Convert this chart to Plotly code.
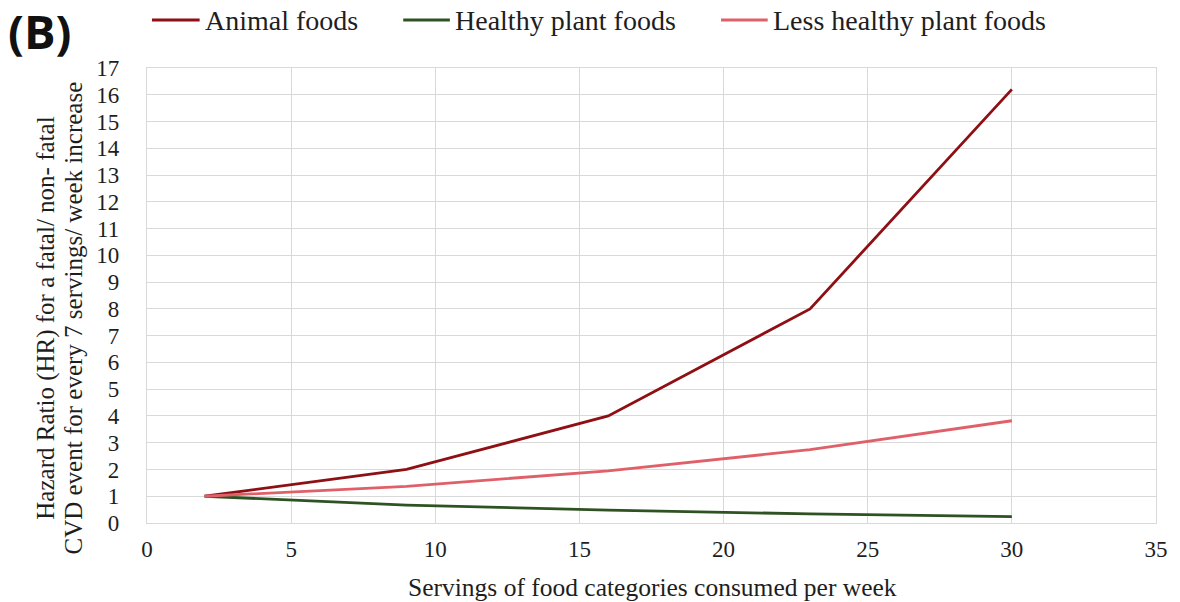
import plotly.graph_objects as go

# Servings per week at which hazard ratios are evaluated
servings = [2, 9, 16, 23, 30]

# Hazard ratios (reference = 2 servings/week)
animal_foods = [1.0, 2.0, 4.0, 8.0, 16.2]
healthy_plant_foods = [1.0, 0.67, 0.48, 0.34, 0.24]
less_healthy_plant_foods = [1.0, 1.37, 1.95, 2.74, 3.82]

series_names = ["Animal foods", "Healthy plant foods", "Less healthy plant foods"]
series_values = [animal_foods, healthy_plant_foods, less_healthy_plant_foods]
series_colors = ["#8e0f14", "#2f5222", "#e0606a"]

x_ticks = [0, 5, 10, 15, 20, 25, 30, 35]
y_ticks = list(range(0, 18))

W, H = 1180, 602
ML, MR, MT, MB = 147, 17, 68, 79
PW, PH = W - ML - MR, H - MT - MB

serif = "Liberation Serif, Times New Roman, serif"
grid = "#d9d9d9"
ink = "#1e1e1e"


def px(x):
    """Page pixel column -> paper x."""
    return (x - ML) / PW


def py(y):
    """Page pixel row -> paper y."""
    return (H - MB - y) / PH


fig = go.Figure()
for name, vals, color in zip(series_names, series_values, series_colors):
    fig.add_trace(go.Scatter(
        x=servings, y=vals, name=name, mode="lines",
        line=dict(color=color, width=2.8), showlegend=False,
    ))

annotations = []
shapes = []

# Legend row across the top: sample line followed by the series name
legend_lines = [(152, 200), (405, 452), (725, 772)]
for (x0, x1), name, color in zip(legend_lines, series_names, series_colors):
    shapes.append(dict(type="line", xref="paper", yref="paper",
                       x0=px(x0), x1=px(x1), y0=py(20), y1=py(20),
                       line=dict(color=color, width=3.2)))
    annotations.append(dict(text=name, xref="paper", yref="paper",
                            x=px(x1 + 3), y=py(21), xanchor="left", yanchor="middle",
                            showarrow=False, font=dict(family=serif, size=28, color=ink)))

# Panel label
annotations.append(dict(text="<b>(B)</b>", xref="paper", yref="paper",
                        x=px(5), y=py(-3), xanchor="left", yanchor="top", showarrow=False,
                        font=dict(family="Open Sans, sans-serif", size=47, color="#111111")))

# Axis titles
annotations.append(dict(text="Servings of food categories consumed per week",
                        xref="paper", yref="paper", x=px(656), y=py(587),
                        xanchor="center", yanchor="middle", showarrow=False,
                        font=dict(family=serif, size=25.5, color=ink)))
for text, xc in [("Hazard Ratio (HR) for a fatal/ non- fatal", 45),
                 ("CVD event for every 7 servings/ week increase", 72)]:
    annotations.append(dict(text=text, xref="paper", yref="paper", x=px(xc), y=py(318),
                            xanchor="center", yanchor="middle", textangle=-90,
                            showarrow=False, font=dict(family=serif, size=25, color=ink)))

fig.update_layout(
    width=W, height=H,
    margin=dict(l=ML, r=MR, t=MT, b=MB),
    paper_bgcolor="white", plot_bgcolor="white",
    font=dict(family=serif, size=23, color=ink),
    showlegend=False,
    xaxis=dict(
        range=[0, 35], tickvals=x_ticks, ticktext=[str(v) for v in x_ticks],
        showgrid=True, gridcolor=grid, gridwidth=1.3, zeroline=False,
        showline=True, linecolor=grid, linewidth=1.3, mirror=True,
        ticks="", ticklabelstandoff=5,
        tickfont=dict(family=serif, size=23, color=ink),
    ),
    yaxis=dict(
        range=[0, 17], tickvals=y_ticks, ticktext=[str(v) for v in y_ticks],
        showgrid=True, gridcolor=grid, gridwidth=1.3, zeroline=False,
        showline=True, linecolor=grid, linewidth=1.3, mirror=True,
        ticks="", ticklabelstandoff=22,
        tickfont=dict(family=serif, size=23, color=ink),
    ),
    annotations=annotations,
    shapes=shapes,
)

fig.write_html("out.html")
